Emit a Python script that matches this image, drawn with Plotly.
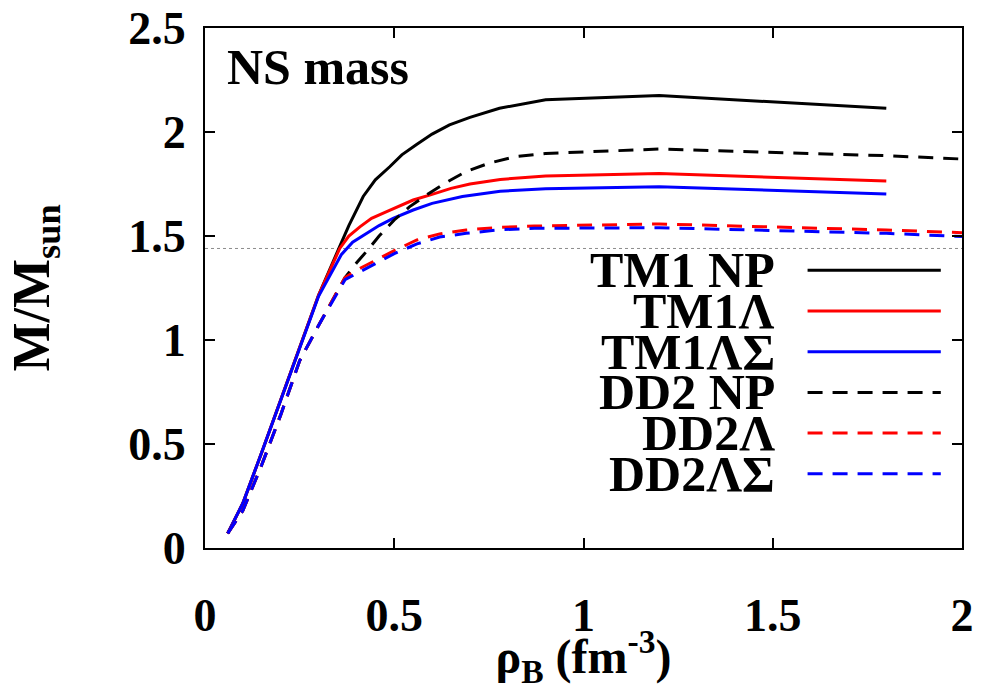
import plotly.graph_objects as go

# Neutron-star mass vs central baryon density for TM1 and DD2 equations of state
tm1_np_x = [0.06, 0.10, 0.15, 0.20, 0.25, 0.30, 0.356, 0.38, 0.418, 0.45, 0.488, 0.52, 0.559,
            0.60, 0.646, 0.70, 0.778, 0.85, 0.90, 1.20, 1.80]
tm1_np_y = [0.07, 0.215, 0.46, 0.715, 0.96, 1.215, 1.45, 1.55, 1.69, 1.77, 1.833, 1.89, 1.94,
            1.99, 2.034, 2.07, 2.114, 2.14, 2.155, 2.175, 2.114]

tm1_l_x = [0.06, 0.10, 0.15, 0.20, 0.25, 0.30, 0.356, 0.38, 0.41, 0.44, 0.48, 0.52, 0.55,
           0.60, 0.65, 0.70, 0.78, 0.90, 1.20, 1.80]
tm1_l_y = [0.07, 0.215, 0.46, 0.715, 0.96, 1.215, 1.44, 1.50, 1.545, 1.585, 1.617, 1.65, 1.673,
           1.70, 1.729, 1.75, 1.772, 1.788, 1.800, 1.764]

tm1_ls_x = [0.06, 0.10, 0.15, 0.20, 0.25, 0.30, 0.36, 0.39, 0.427, 0.46, 0.497, 0.55, 0.60,
            0.68, 0.78, 0.90, 1.20, 1.80]
tm1_ls_y = [0.07, 0.215, 0.46, 0.715, 0.96, 1.21, 1.41, 1.47, 1.513, 1.55, 1.585, 1.625, 1.657,
            1.69, 1.715, 1.727, 1.737, 1.702]

dd2_np_x = [0.06, 0.10, 0.15, 0.20, 0.25, 0.30, 0.37, 0.40, 0.43, 0.46, 0.50, 0.54, 0.585,
            0.635, 0.69, 0.75, 0.82, 0.90, 1.20, 1.80, 2.00]
dd2_np_y = [0.07, 0.18, 0.40, 0.64, 0.90, 1.07, 1.30, 1.37, 1.433, 1.50, 1.577, 1.64, 1.697,
            1.755, 1.81, 1.85, 1.882, 1.897, 1.918, 1.886, 1.870]

dd2_l_x = [0.06, 0.10, 0.15, 0.20, 0.25, 0.30, 0.37, 0.41, 0.453, 0.50, 0.56, 0.62, 0.69,
           0.78, 0.87, 1.20, 1.80, 2.00]
dd2_l_y = [0.07, 0.18, 0.40, 0.64, 0.90, 1.07, 1.30, 1.345, 1.385, 1.43, 1.481, 1.51, 1.529,
           1.542, 1.548, 1.558, 1.529, 1.516]

dd2_ls_x = [0.06, 0.10, 0.15, 0.20, 0.25, 0.30, 0.37, 0.41, 0.453, 0.50, 0.56, 0.62, 0.69,
            0.78, 0.87, 1.20, 1.80, 2.00]
dd2_ls_y = [0.07, 0.18, 0.40, 0.64, 0.90, 1.07, 1.29, 1.33, 1.370, 1.415, 1.462, 1.495, 1.513,
            1.53, 1.537, 1.540, 1.513, 1.497]

pulsar_mass = 1.44

series_names = ["TM1 NP", "TM1Λ", "TM1ΛΣ", "DD2 NP", "DD2Λ", "DD2ΛΣ"]
series_x = [tm1_np_x, tm1_l_x, tm1_ls_x, dd2_np_x, dd2_l_x, dd2_ls_x]
series_y = [tm1_np_y, tm1_l_y, tm1_ls_y, dd2_np_y, dd2_l_y, dd2_ls_y]
series_color = ["#000000", "#ff0000", "#0000ff", "#000000", "#ff0000", "#0000ff"]
series_dash = ["solid", "solid", "solid", "15px,10px", "15px,10px", "15px,10px"]

x_ticks = [0, 0.5, 1, 1.5, 2]
y_ticks = [0, 0.5, 1, 1.5, 2, 2.5]

FONT = "Times New Roman"

fig = go.Figure()

fig.add_hline(y=pulsar_mass, line=dict(color="#8c8c8c", width=1, dash="dot"), layer="below")

for name, xs, ys, col, dash in zip(series_names, series_x, series_y, series_color, series_dash):
    fig.add_trace(go.Scatter(x=xs, y=ys, mode="lines", name=name,
                             line=dict(color=col, width=3, dash=dash),
                             showlegend=False, cliponaxis=True))

# hand-placed key: right-aligned labels with sample lines
row_y = [0.534, 0.456, 0.3775, 0.2992, 0.2212, 0.1429]
for name, col, dash, yy in zip(series_names, series_color, series_dash, row_y):
    fig.add_annotation(x=0.7556, y=yy, xref="paper", yref="paper", text="<b>" + name + "</b>",
                       showarrow=False, xanchor="right", yanchor="middle",
                       font=dict(family=FONT, size=50, color="black"))
    fig.add_shape(type="line", xref="paper", yref="paper", x0=0.796, x1=0.972, y0=yy, y1=yy,
                  line=dict(color=col, width=3, dash=dash))

fig.add_annotation(x=0.026, y=0.925, xref="paper", yref="paper", text="<b>NS mass</b>",
                   showarrow=False, xanchor="left", yanchor="middle",
                   font=dict(family=FONT, size=50, color="black"))

axis_common = dict(showline=True, linecolor="black", linewidth=2, mirror="allticks",
                   ticks="inside", ticklen=10, tickwidth=1.5, tickcolor="black",
                   showgrid=False, zeroline=False,
                   tickfont=dict(family=FONT, size=46, color="black"))

fig.update_xaxes(range=[0, 2], tickvals=x_ticks, ticktext=[f"<b>{v:g}</b>" for v in x_ticks],
                 ticklabelstandoff=26,
                 title=dict(text="<b>ρ<sub>B</sub> (fm<sup>-3</sup>)</b>", standoff=8,
                            font=dict(family=FONT, size=48, color="black")),
                 **axis_common)
fig.update_yaxes(range=[0, 2.5], tickvals=y_ticks, ticktext=[f"<b>{v:g}</b>" for v in y_ticks],
                 ticklabelstandoff=8,
                 title=dict(text="<b>M/M<sub>sun</sub></b>", standoff=62,
                            font=dict(family=FONT, size=52, color="black")),
                 **axis_common)

fig.update_layout(width=990, height=690, plot_bgcolor="white", paper_bgcolor="white",
                  font=dict(family=FONT, color="black"),
                  margin=dict(l=205, r=28, t=28, b=142, autoexpand=False),
                  showlegend=False)

fig.write_html("out.html")
